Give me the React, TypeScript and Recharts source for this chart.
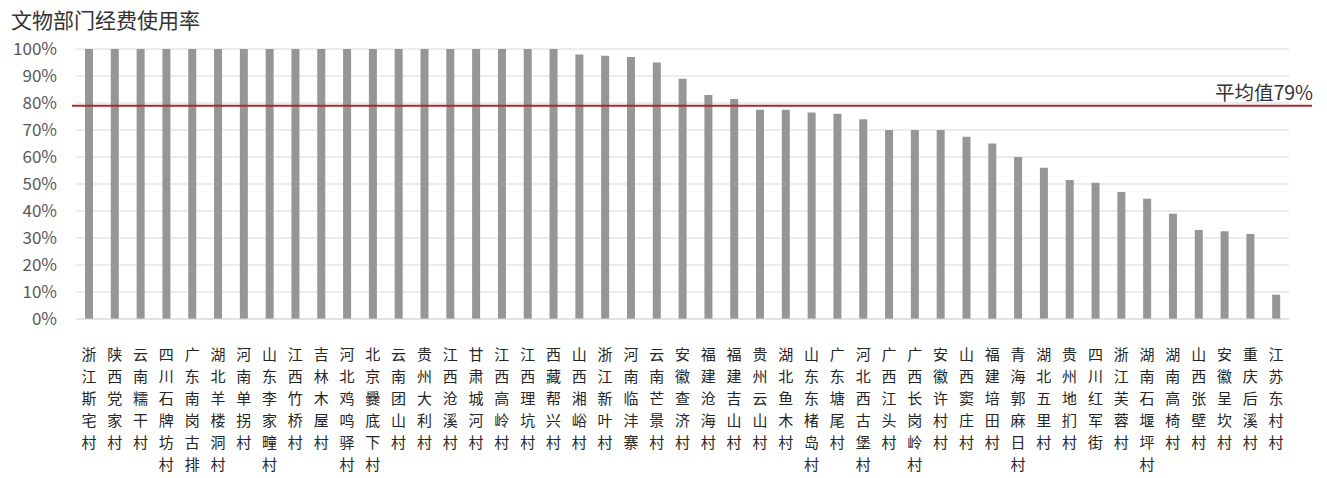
import { BarChart, Bar, XAxis, YAxis, CartesianGrid, ReferenceLine } from "recharts";

const villages = [
  "浙江斯宅村", "陕西党家村", "云南糯干村", "四川石牌坊村", "广东南岗古排", "湖北羊楼洞村",
  "河南单拐村", "山东李家疃村", "江西竹桥村", "吉林木屋村", "河北鸡鸣驿村", "北京爨底下村",
  "云南团山村", "贵州大利村", "江西沧溪村", "甘肃城河村", "江西高岭村", "江西理坑村",
  "西藏帮兴村", "山西湘峪村", "浙江新叶村", "河南临沣寨", "云南芒景村", "安徽查济村",
  "福建沧海村", "福建吉山村", "贵州云山村", "湖北鱼木村", "山东东楮岛村", "广东塘尾村",
  "河北西古堡村", "广西江头村", "广西长岗岭村", "安徽许村村", "山西窦庄村", "福建培田村",
  "青海郭麻日村", "湖北五里村", "贵州地扪村", "四川红军街", "浙江芙蓉村", "湖南石堰坪村",
  "湖南高椅村", "山西张壁村", "安徽呈坎村", "重庆后溪村", "江苏东村村",
];

const usageRate = [
  100, 100, 100, 100, 100, 100, 100, 100, 100, 100, 100, 100,
  100, 100, 100, 100, 100, 100, 100, 98, 97.5, 97, 95, 89,
  83, 81.5, 77.5, 77.5, 76.5, 76, 74, 70, 70, 70, 67.5, 65,
  60, 56, 51.5, 50.5, 47, 44.5, 39, 33, 32.5, 31.5, 9,
];

const yTicks = [0, 10, 20, 30, 40, 50, 60, 70, 80, 90, 100];
const average = 79;

const data = villages.map((name, i) => ({ name, rate: usageRate[i] }));

const FONT = "'Noto Sans CJK SC', 'Noto Sans', sans-serif";

// category names are written top to bottom, one character per line
function VerticalTick(props: any) {
  const { x, y, payload } = props;
  const chars = String(payload.value).split("");
  return (
    <g>
      {chars.map((c, i) => (
        <text
          key={i}
          x={x}
          y={y + 33 + i * 22}
          textAnchor="middle"
          fontSize={15}
          fill="#262626"
          fontFamily={FONT}
        >
          {c}
        </text>
      ))}
    </g>
  );
}

// stretch the average line a little past the plot area, like the original
function AvgLine(props: any) {
  const { x1, x2, y1, y2 } = props;
  return (
    <g>
      <line x1={x1 - 4} y1={y1} x2={x2 + 23} y2={y2} stroke="#a8292b" strokeWidth={2} />
      <text x={x2 + 24} y={y1 - 6} textAnchor="end" fontSize={19.5} fill="#333" fontFamily={FONT}>
        平均值79%
      </text>
    </g>
  );
}

export default function App() {
  return (
    <div style={{ position: "relative", width: 1327, height: 478, background: "#fff", fontFamily: FONT }}>
      <style>{"body{margin:0}"}</style>
      <div style={{ position: "absolute", left: 11, top: 4, fontSize: 21, color: "#333" }}>文物部门经费使用率</div>
      <BarChart width={1327} height={478} data={data} margin={{ top: 49, right: 38, left: 0, bottom: 0 }}>
        <CartesianGrid vertical={false} stroke="#d9d9d9" />
        <XAxis
          dataKey="name"
          interval={0}
          height={159}
          tickLine={false}
          axisLine={{ stroke: "#d9d9d9" }}
          tick={<VerticalTick />}
        />
        <YAxis
          domain={[0, 100]}
          ticks={yTicks}
          width={76}
          tickLine={false}
          axisLine={false}
          tickMargin={13}
          tickFormatter={(v) => `${v}%`}
          tick={{ fontSize: 17, fill: "#595959", fontFamily: FONT }}
        />
        <Bar dataKey="rate" fill="#969696" barSize={8} isAnimationActive={false} />
        <ReferenceLine y={average} shape={<AvgLine />} />
      </BarChart>
    </div>
  );
}
